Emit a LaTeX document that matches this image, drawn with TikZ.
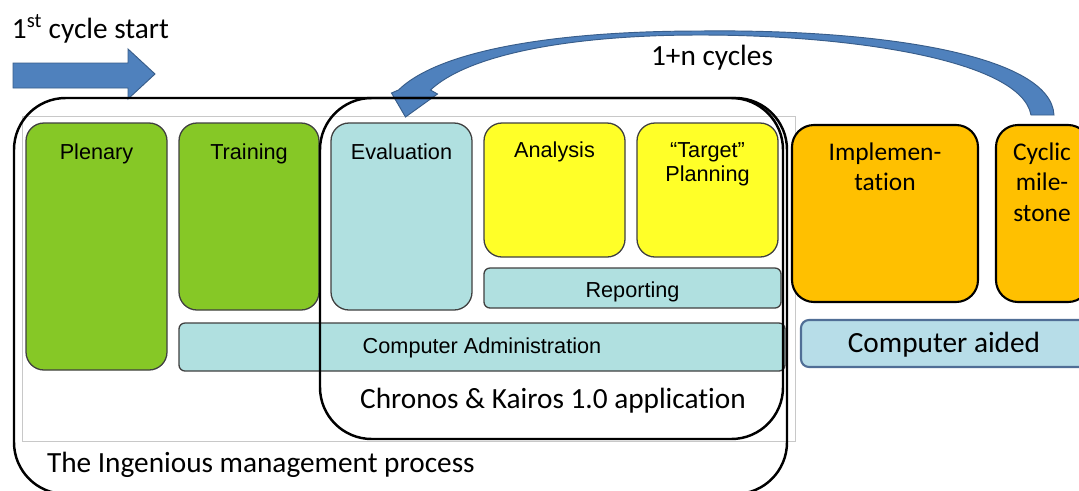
\documentclass[tikz,border=0pt]{standalone}
\usepackage{fontspec}
\newfontfamily\arialf{Liberation Sans}
\newfontfamily\calf[Ligatures=NoCommon]{Carlito}
\usetikzlibrary{fit,calc}

\definecolor{leaf}{RGB}{134,200,38}
\definecolor{aqua}{RGB}{176,224,224}
\definecolor{lemon}{RGB}{255,255,40}
\definecolor{amber}{RGB}{255,192,0}
\definecolor{aidfill}{RGB}{183,221,232}
\definecolor{aidedge}{RGB}{80,110,150}
\definecolor{tileedge}{RGB}{64,64,64}
\definecolor{sheetgray}{RGB}{200,200,200}
\definecolor{arrowblue}{RGB}{79,129,189}
\definecolor{arrowedge}{RGB}{56,93,138}

% centred multi-line label whose baseline is that of its first line
\newcommand\stackc[1]{\begin{tabular}[t]{@{}c@{}}#1\end{tabular}}

\begin{document}
\begin{tikzpicture}[x=0.03cm, y=-0.03cm,
  every node/.style={inner sep=0pt, outer sep=0pt},
  sheet/.style={draw=sheetgray, line width=0.7pt},
  greentile/.style={draw=tileedge, fill=leaf, line width=1.1pt, rounded corners=0.54cm},
  cyantile/.style={draw=tileedge, fill=aqua, line width=1.1pt, rounded corners=0.54cm},
  yellowtile/.style={draw=tileedge, fill=lemon, line width=1.1pt, rounded corners=0.54cm},
  bar/.style={draw=tileedge, fill=aqua, line width=1.1pt, rounded corners=0.18cm},
  ambertile/.style={draw=black, fill=amber, line width=1.8pt, rounded corners=0.66cm},
  aidbar/.style={draw=aidedge, fill=aidfill, line width=1.8pt, rounded corners=0.24cm},
  frame/.style={draw=black, line width=2.1pt, rounded corners=1.55cm},
  blockarrow/.style={fill=arrowblue, draw=arrowedge, line width=0.8pt},
  lbl/.style={font=\arialf\fontsize{18.5}{21.3}\selectfont, anchor=base},
  cal/.style={font=\calf\fontsize{25}{30}\selectfont, anchor=base},
  calsmall/.style={font=\calf\fontsize{21.7}{26.4}\selectfont, anchor=base}
]
\clip (0,0) rectangle (1079,490);
\fill[white] (0,0) rectangle (1079,490);

% thin grey sheet behind the process
\node[sheet, fit={(22,116) (795,441)}] (sheetbox) {};

% start arrow
\draw[blockarrow] (13,63) -- (128,63) -- (128,49) -- (155,74) -- (128,99)
  -- (128,88) -- (13,88) -- cycle;
\node[cal, anchor=base west] (startlbl) at (12,38) {1\textsuperscript{st} cycle start};

% process steps
\node[greentile, fit={(26,123) (167,370)}] (plenary) {};
\node[greentile, fit={(179,123) (319,310)}] (training) {};
\node[cyantile, fit={(331,123) (472,310)}] (evaluation) {};
\node[yellowtile, fit={(484,123) (625,257)}] (analysis) {};
\node[yellowtile, fit={(637,123) (778,257)}] (target) {};
\node[bar, fit={(484,268) (781,308)}] (reporting) {};
\node[bar, fit={(179,323) (785,371)}] (admin) {};
\node[ambertile, fit={(792,125) (978,302)}] (impl) {};
\node[ambertile, fit={(996,125) (1090,302)}] (cyclic) {};
\node[aidbar, fit={(801,320) (1090,367)}] (aided) {};

\node[lbl] (plenarylbl) at (96.5,159) {Plenary};
\node[lbl] (traininglbl) at (249,159) {Training};
\node[lbl] (evaluationlbl) at (401.5,159) {Evaluation};
\node[lbl] (analysislbl) at (554.5,157) {Analysis};
\node[lbl] (targetlbl) at (707.5,157) {\stackc{“Target”\\Planning}};
\node[lbl] (reportinglbl) at (632.5,297) {Reporting};
\node[lbl] (adminlbl) at (482,353) {Computer Administration};
\node[calsmall] (impllbl) at (885,160) {\stackc{Implemen-\\tation}};
\node[calsmall] (cycliclbl) at (1042,160) {\stackc{Cyclic\\mile-\\stone}};
\node[cal] (aidedlbl) at (944,352) {Computer aided};

% loop-back arrow from the milestone to the evaluation
\coordinate (loopstart) at ($(cyclic.north)+(0,-10)$);
\coordinate (looptip) at ($(evaluation.north)+(4,-6)$);
\filldraw[blockarrow]
  ($(loopstart)+(11,0)$) -- ($(loopstart)+(-12,0)$)
  .. controls ($(loopstart)+(-22,-55)$) and ($(loopstart)+(-192,-80)$) .. ($(looptip)+(295,-82)$)
  .. controls ($(looptip)+(155,-82)$) and ($(looptip)+(60,-60)$) .. ($(looptip)+(25,-27)$)
  -- ($(looptip)+(32,-23)$) -- (looptip) -- ($(looptip)+(-14,-24)$) -- ($(looptip)+(-7,-27)$)
  .. controls ($(looptip)+(35,-68)$) and ($(looptip)+(155,-86)$) .. ($(looptip)+(295,-86)$)
  .. controls ($(loopstart)+(-162,-86)$) and ($(loopstart)+(8,-60)$) .. ($(loopstart)+(11,0)$)
  -- cycle;
\node[cal] (looplbl) at (712,65) {1+n cycles};

% enclosing frames
\node[frame, fit={(14,98) (787,494)}] (process) {};
\node[frame, fit={(320,98) (783,439)}] (chronos) {};
\node[cal] (chronoslbl) at (553,408) {Chronos \& Kairos 1.0 application};
\node[cal, anchor=base west] (processlbl) at (47,472) {The Ingenious management process};
\end{tikzpicture}
\end{document}
